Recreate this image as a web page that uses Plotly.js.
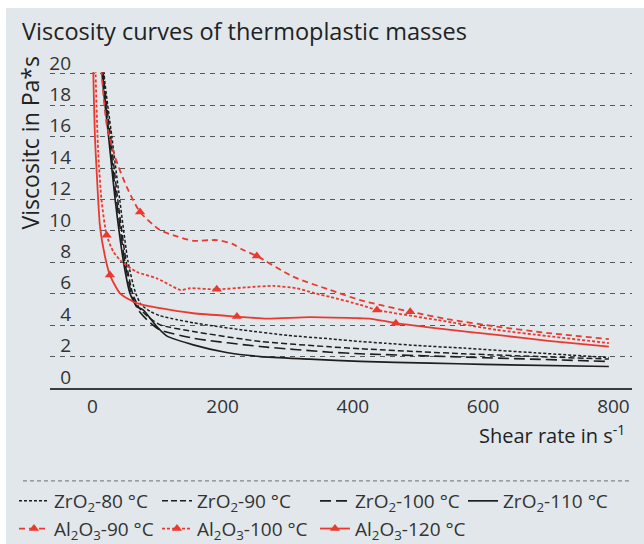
<!DOCTYPE html>
<html><head><meta charset="utf-8">
<script src="https://cdn.plot.ly/plotly-3.0.1.min.js"></script>
<style>
html,body{margin:0;padding:0;background:#ffffff;}
#chart{position:absolute;left:6px;top:8px;width:638px;height:536px;}
</style>
</head><body><div id="chart"></div>
<script>
// ---- data ----
const xTicks = [0, 200, 400, 600, 800];
const yTicks = [0, 2, 4, 6, 8, 10, 12, 14, 16, 18, 20];

const zr80_x = [16, 18, 30, 42, 55, 66, 75, 90, 104, 130, 155, 186, 230, 300, 365, 411, 450, 500, 570, 680, 793];
const zr80_y = [24, 20, 16, 12, 8, 6.1, 5.3, 4.85, 4.6, 4.35, 4.15, 3.95, 3.7, 3.35, 3.13, 2.96, 2.85, 2.7, 2.54, 2.24, 1.94];

const zr90_x = [15, 17, 28, 39, 52, 62, 72, 85, 104, 155, 258, 365, 411, 570, 793];
const zr90_y = [24, 20, 16, 12, 8, 6, 5.1, 4.55, 4.02, 3.6, 2.96, 2.62, 2.5, 2.18, 1.84];

const zr100_x = [15, 16, 26, 37, 50, 60, 70, 85, 104, 155, 258, 365, 411, 570, 793];
const zr100_y = [24, 20, 16, 12, 8, 6, 5.0, 4.3, 3.7, 3.17, 2.64, 2.28, 2.18, 1.97, 1.69];

const zr110_x = [14, 15, 25, 35, 48, 58, 68, 78, 99, 114, 155, 206, 258, 334, 411, 519, 600, 793];
const zr110_y = [24, 20, 16, 12, 8, 6, 5.2, 4.97, 3.91, 3.32, 2.75, 2.26, 2.0, 1.84, 1.69, 1.59, 1.5, 1.37];

const al90_x = [10, 14.4, 22, 34.9, 52.8, 73.3, 104, 130, 155, 191, 216, 229.5, 252.5, 308, 365, 411, 488, 550, 621, 700, 793];
const al90_y = [26, 20, 16.8, 14.7, 12.8, 11.2, 10.05, 9.65, 9.37, 9.42, 9.16, 8.83, 8.4, 7.09, 6.24, 5.6, 4.86, 4.35, 3.91, 3.5, 3.11];
const al90_tri = [5, 12, 16];

const al100_x = [3, 5, 9, 14, 22, 32, 45, 68, 99, 119, 135, 150, 191, 237, 278, 314, 340, 365, 411, 437, 530, 621, 700, 793];
const al100_y = [26, 20, 15, 12, 9.73, 8.7, 8.04, 7.4, 6.98, 6.56, 6.24, 6.35, 6.28, 6.41, 6.5, 6.35, 6.05, 5.8, 5.3, 4.97, 4.33, 3.7, 3.3, 2.86];
const al100_tri = [4, 12, 19];

const al120_x = [0.5, 1.5, 4, 6.8, 11.8, 19.5, 27, 42.5, 68, 104, 155, 222, 268, 334, 411, 426, 466, 540, 621, 700, 793];
const al120_y = [26, 20, 16, 13.65, 10.26, 8.36, 7.19, 6.03, 5.4, 5.08, 4.76, 4.55, 4.42, 4.51, 4.44, 4.42, 4.13, 3.75, 3.38, 3.0, 2.64];
const al120_tri = [6, 11, 16];

const names = ['ZrO<sub>2</sub>-80 °C', 'ZrO<sub>2</sub>-90 °C', 'ZrO<sub>2</sub>-100 °C', 'ZrO<sub>2</sub>-110 °C',
               'Al<sub>2</sub>O<sub>3</sub>-90 °C', 'Al<sub>2</sub>O<sub>3</sub>-100 °C', 'Al<sub>2</sub>O<sub>3</sub>-120 °C'];

// ---- styling ----
const W = 638, H = 536;
const BLACK = '#1e1e1e';
const RED = '#ea3a30';
const FONT = 'Open Sans, Noto Sans, sans-serif';

function blackTrace(x, y, name, dash, w, lg) {
  return {x: x, y: y, name: name, type: 'scatter', mode: 'lines', legend: lg,
          line: {color: BLACK, width: w, dash: dash, shape: 'spline', smoothing: 0.6},
          hoverinfo: 'skip'};
}
function redTrace(x, y, name, dash, tri, lg) {
  return {x: x, y: y, name: name, type: 'scatter', mode: 'lines+markers', legend: lg,
          line: {color: RED, width: 1.8, dash: dash, shape: 'spline', smoothing: 0.6},
          marker: {symbol: 'triangle-up', size: 9, color: RED},
          selectedpoints: tri,
          selected: {marker: {opacity: 1}},
          unselected: {marker: {opacity: 0}},
          hoverinfo: 'skip'};
}

const data = [
  blackTrace(zr80_x, zr80_y, names[0], '3px,2px', 1.5, 'legend'),
  blackTrace(zr90_x, zr90_y, names[1], '6px,3px', 1.5, 'legend2'),
  blackTrace(zr100_x, zr100_y, names[2], '11px,5px', 1.6, 'legend3'),
  blackTrace(zr110_x, zr110_y, names[3], 'solid', 1.7, 'legend4'),
  redTrace(al90_x, al90_y, names[4], '6px,4px', al90_tri, 'legend'),
  redTrace(al100_x, al100_y, names[5], '3px,2px', al100_tri, 'legend2'),
  redTrace(al120_x, al120_y, names[6], 'solid', al120_tri, 'legend3')
];

function legendAt(xpx) {
  return {orientation: 'v', xref: 'container', yref: 'container',
          x: xpx / W, xanchor: 'left', y: 1 - 474 / H, yanchor: 'top',
          font: {family: FONT, size: 19, color: '#333333'}, bgcolor: 'rgba(0,0,0,0)',
          itemwidth: 30, traceorder: 'normal', tracegroupgap: 0};
}

const layout = {
  width: W, height: H,
  margin: {l: 44, r: 12, t: 64, b: 156, pad: 0, autoexpand: false},
  paper_bgcolor: '#e1e7ea', plot_bgcolor: '#e1e7ea',
  font: {family: FONT, color: '#333333'},
  showlegend: true,
  title: {text: 'Viscosity curves of thermoplastic masses', font: {family: FONT, size: 23.5, color: '#222222'},
          x: 16 / W, xref: 'container', xanchor: 'left', y: 1 - 24 / H, yref: 'container', yanchor: 'middle'},
  xaxis: {range: [-65, 828.5], tickvals: xTicks, ticktext: xTicks.map(String),
          showgrid: false, zeroline: false, showline: true, linecolor: '#3c3c3c', linewidth: 2,
          ticks: '', tickfont: {family: FONT, size: 19, color: '#333333'}, ticklabelstandoff: 0, fixedrange: true},
  yaxis: {range: [0, 20.12], tickvals: yTicks, ticktext: yTicks.map(String),
          showgrid: true, gridcolor: '#55595c', gridwidth: 1, griddash: '5px,5px',
          zeroline: false, showline: false, ticks: '',
          ticklabelshift: -11, ticklabelstandoff: -22,
          tickfont: {family: FONT, size: 19, color: '#333333'}, fixedrange: true},
  legend: legendAt(8),
  legend2: legendAt(151),
  legend3: legendAt(309),
  legend4: legendAt(457),
  annotations: [
    {text: 'Viscositc in Pa*s', xref: 'paper', yref: 'paper', x: -0.0344, y: 0.777,
     xanchor: 'center', yanchor: 'middle', textangle: -90, showarrow: false,
     font: {family: FONT, size: 23, color: '#222222'}},
    {text: 'Shear rate in s<sup>-1</sup>', xref: 'paper', yref: 'paper', x: 0.991, y: -0.148,
     xanchor: 'right', yanchor: 'middle', showarrow: false,
     font: {family: FONT, size: 20, color: '#222222'}}
  ],
  shapes: [
    {type: 'line', xref: 'paper', yref: 'paper', x0: -0.0464, x1: 0.9966, y0: -0.294, y1: -0.294,
     line: {color: '#6b6f72', width: 1, dash: '4px,3px'}}
  ]
};

Plotly.newPlot('chart', data, layout, {displayModeBar: false, staticPlot: true});
</script></body></html>
